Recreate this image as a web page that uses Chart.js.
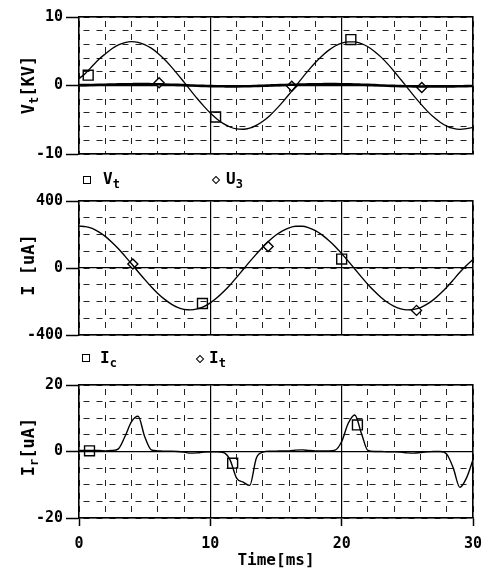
<!DOCTYPE html>
<html>
<head>
<meta charset="utf-8">
<script src="https://cdn.jsdelivr.net/npm/chart.js@4.4.0/dist/chart.umd.min.js"></script>
<style>
  html, body { margin: 0; padding: 0; background: #fff; }
  #page { position: relative; width: 486px; height: 572px; overflow: hidden;
          font-family: "DejaVu Sans Mono", monospace; font-weight: bold; color: #000; }
  .panel { position: absolute; left: 0; }
  .ytitle { position: absolute; transform: translate(-50%, -50%) rotate(-90deg);
            white-space: nowrap; font-size: 17px; line-height: 1; }
  .leg { position: absolute; font-size: 16px; line-height: 16px; white-space: nowrap; }
  sub { font-size: 12px; vertical-align: -4px; line-height: 0; }
  .sq { position: absolute; width: 6px; height: 6px; border: 1.5px solid #000; }
  .dm { position: absolute; width: 4px; height: 4px; border: 1.5px solid #000; transform: rotate(45deg); }
</style>
</head>
<body>
<div id="page">
  <canvas id="c1" class="panel" style="top:0px" width="486" height="170"></canvas>
  <canvas id="c2" class="panel" style="top:184px" width="486" height="170"></canvas>
  <canvas id="c3" class="panel" style="top:368px" width="486" height="204"></canvas>

  <div class="ytitle" style="left:28px; top:85px">V<sub>t</sub>[KV]</div>
  <div class="ytitle" style="left:28px; top:265px">I [uA]</div>
  <div class="ytitle" style="left:28px; top:447px">I<sub>r</sub>[uA]</div>

  <div class="sq" style="left:83px; top:176px"></div>
  <div class="leg" style="left:103px; top:171px">V<sub>t</sub></div>
  <div class="dm" style="left:213px; top:177px"></div>
  <div class="leg" style="left:226px; top:171px">U<sub>3</sub></div>

  <div class="sq" style="left:82px; top:354px"></div>
  <div class="leg" style="left:100px; top:350px">I<sub>c</sub></div>
  <div class="dm" style="left:197px; top:356px"></div>
  <div class="leg" style="left:209px; top:350px">I<sub>t</sub></div>
</div>
<script>
// time axis (ms)
const time = [0,0.5,1,1.5,2,2.5,3,3.5,4,4.5,5,5.5,6,6.5,7,7.5,8,8.5,9,9.5,10,
  10.5,11,11.5,12,12.5,13,13.5,14,14.5,15,15.5,16,16.5,17,17.5,18,18.5,19,19.5,20,
  20.5,21,21.5,22,22.5,23,23.5,24,24.5,25,25.5,26,26.5,27,27.5,28,28.5,29,29.5,30];

// panel 1: voltages [kV]
const vt = [1.00,1.80,2.80,3.80,4.61,5.36,5.92,6.27,6.40,6.30,5.98,5.45,4.72,3.83,2.80,1.67,
  0.48,-0.72,-1.90,-3.01,-4.02,-4.88,-5.57,-6.06,-6.34,-6.39,-6.22,-5.82,-5.22,-4.44,-3.49,
  -2.43,-1.28,-0.08,1.12,2.28,3.36,4.32,5.13,5.76,6.18,6.38,6.36,6.11,5.65,4.98,4.14,3.15,2.05,
  0.88,-0.32,-1.52,-2.65,-3.70,-4.61,-5.36,-5.92,-6.27,-6.40,-6.30,-6.10];
const u3 = [0.05,0.06,0.08,0.10,0.12,0.14,0.16,0.18,0.19,0.20,0.20,0.19,0.18,0.15,0.12,0.09,
  0.05,0.01,-0.03,-0.06,-0.09,-0.11,-0.12,-0.13,-0.13,-0.12,-0.10,-0.07,-0.04,0.00,0.04,0.07,
  0.10,0.12,0.14,0.16,0.18,0.19,0.20,0.20,0.19,0.17,0.15,0.12,0.09,0.05,0.01,-0.03,-0.06,-0.09,
  -0.11,-0.13,-0.14,-0.15,-0.15,-0.15,-0.14,-0.13,-0.11,-0.09,-0.08];
const vtMarkT = [0.7, 10.4, 20.7];
const vtMarkV = [1.5, -4.6, 6.7];
const u3MarkT = [6.1, 16.2, 26.1];
const u3MarkV = [0.4, -0.1, -0.3];

// panel 2: current [uA]
const iCur = [250,247,236,216,189,154,115,71,25,-22,-68,-112,-152,-186,-214,-235,-247,-250,
  -244,-230,-208,-178,-142,-101,-56,-9,38,83,126,164,197,222,240,249,249,240,223,198,166,129,
  86,41,-6,-53,-98,-139,-176,-206,-229,-244,-250,-247,-236,-216,-189,-154,-115,-71,-25,15,50];
const icMarkT = [9.4, 20.0];
const icMarkV = [-212, 53];
const itMarkT = [4.1, 14.4, 25.7];
const itMarkV = [24, 128, -253];

// panel 3: resistive current [uA]
const ir = [0.3,0.3,0.3,0.3,0.2,0.3,0.8,4.5,9.0,10.6,4.5,0.5,0.2,0.1,0.1,0,-0.2,-0.5,-0.4,-0.2,
  -0.1,-0.1,-0.3,-2.5,-8.0,-9.2,-10.2,-2.0,-0.2,0.1,0.1,0.2,0.2,0.4,0.5,0.3,0.2,0.2,0.2,0.4,
  3.0,8.5,11.0,5.5,0.3,0,0,-0.1,-0.1,-0.2,-0.4,-0.5,-0.3,-0.1,0,0,-0.8,-5.0,-10.8,-8.0,-2.5];
const irMarkT = [0.8, 11.7, 21.2];
const irMarkV = [0.2, -3.5, 8];

// tick labels shown on each axis
const yLab1 = [-10, 0, 10];
const yLab2 = [-400, 0, 400];
const yLab3 = [-20, 0, 20];
const xLab = [0, 10, 20, 30];

const tickFont = { family: 'DejaVu Sans Mono', size: 15, weight: 'bold' };

function pts(xs, ys) {
    return xs.map((x, i) => ({ x: x, y: ys[i] }));
}

function lineSet(vals, w) {
    return { data: pts(time, vals), showLine: true, borderColor: '#000', borderWidth: w,
             pointRadius: 0, cubicInterpolationMode: 'monotone', fill: false };
}

function markSet(ts, vs, style) {
    const sq = style === 'rect';
    return { data: pts(ts, vs), showLine: false, pointStyle: style,
             pointRadius: sq ? 7 : 5, borderColor: '#000', borderWidth: 1.4,
             backgroundColor: sq ? 'rgba(0,0,0,0)' : '#fff' };
}

function makePanel(id, datasets, yMin, yMax, yStep, yLabels, bottomH, showX) {
    const ctx = document.getElementById(id).getContext('2d');
    return new Chart(ctx, {
        type: 'scatter',
        data: { datasets: datasets },
        options: {
            responsive: false,
            animation: false,
            layout: { padding: { left: 0, right: 13, top: 17, bottom: 0 } },
            plugins: { legend: { display: false }, tooltip: { enabled: false } },
            scales: {
                x: {
                    type: 'linear', position: 'bottom', min: 0, max: 30,
                    afterFit: s => { s.height = bottomH; s.paddingLeft = 0; s.paddingRight = 0; },
                    ticks: {
                        stepSize: 2, autoSkip: false, maxRotation: 0, display: showX,
                        padding: 9, font: tickFont, color: '#000',
                        callback: v => xLab.includes(Math.round(v)) && Math.abs(v - Math.round(v)) < 1e-6 ? String(Math.round(v)) : ''
                    },
                    grid: {
                        color: '#222', lineWidth: 1, drawTicks: showX, tickLength: 8, tickWidth: 1.5,
                        tickColor: c => (c.tick && xLab.includes(Math.round(c.tick.value))) ? '#000' : 'rgba(0,0,0,0)'
                    },
                    border: { color: '#000', width: 1.5, dash: [6, 7], dashOffset: -4 },
                    title: {
                        display: showX, text: 'Time[ms]', color: '#000',
                        font: { family: 'DejaVu Sans Mono', size: 16, weight: 'bold' },
                        padding: { top: 0, bottom: 2 }
                    }
                },
                xs: {
                    type: 'linear', position: 'top', min: 0, max: 30,
                    afterFit: s => { s.height = 0; },
                    ticks: { display: false, stepSize: 10 },
                    grid: { color: '#000', lineWidth: 1.2, drawTicks: false },
                    border: { color: '#000', width: 1.5 }
                },
                y: {
                    type: 'linear', position: 'left', min: yMin, max: yMax,
                    afterFit: s => { s.width = 79; },
                    ticks: {
                        stepSize: yStep, autoSkip: false, padding: 3, font: tickFont, color: '#000',
                        callback: v => yLabels.includes(v) ? String(v) : ''
                    },
                    grid: {
                        color: '#222', lineWidth: 1, tickLength: 13, tickWidth: 1.5,
                        tickColor: c => (c.tick && yLabels.includes(c.tick.value)) ? '#000' : 'rgba(0,0,0,0)'
                    },
                    border: { color: '#000', width: 1.5, dash: [6, 7], dashOffset: -4 }
                },
                ys: {
                    type: 'linear', position: 'right', min: yMin, max: yMax,
                    afterFit: s => { s.width = 0; },
                    ticks: { display: false, stepSize: yMax },
                    grid: { color: '#000', lineWidth: 1.2, drawTicks: false },
                    border: { color: '#000', width: 1.5 }
                }
            }
        }
    });
}

makePanel('c1', [
    lineSet(vt, 1.3),
    lineSet(u3, 2.6),
    markSet(vtMarkT, vtMarkV, 'rect'),
    markSet(u3MarkT, u3MarkV, 'rectRot')
], -10, 10, 2, yLab1, 16, false);

makePanel('c2', [
    lineSet(iCur, 1.4),
    markSet(icMarkT, icMarkV, 'rect'),
    markSet(itMarkT, itMarkV, 'rectRot')
], -400, 400, 100, yLab2, 19, false);

makePanel('c3', [
    lineSet(ir, 1.4),
    markSet(irMarkT, irMarkV, 'rect')
], -20, 20, 5, yLab3, 54, true);
</script>
</body>
</html>
